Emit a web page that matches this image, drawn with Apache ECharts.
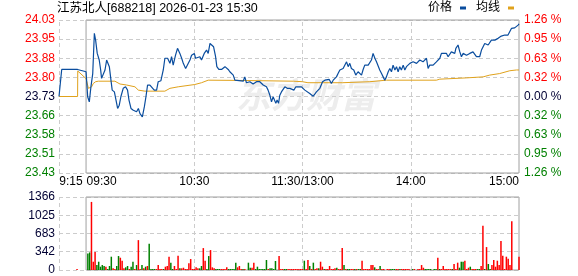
<!DOCTYPE html>
<html><head><meta charset="utf-8">
<script src="https://cdn.jsdelivr.net/npm/echarts@6/dist/echarts.min.js"></script>
<style>html,body{margin:0;padding:0;background:#fff}#c{width:578px;height:276px}</style>
</head><body><div id="c"></div>
<script>
// ---------- data ----------
const titleText = '江苏北人[688218] 2026-01-23 15:30';
const legendNames = ['价格', '均线'];
const prevClose = 23.73;
const priceMin = 23.43, priceMax = 24.03;
const priceTicks = ['23.43','23.51','23.58','23.66','23.73','23.80','23.88','23.95','24.03'];
const pctTicks = ['1.26 %','0.95 %','0.63 %','0.32 %','0.00 %','0.32 %','0.63 %','0.95 %','1.26 %'];
const volMax = 1366;
const volTicks = ['0','342','683','1025','1366'];
// minute index: 0 = 9:15, 15 = 9:30, 135 = 11:30/13:00, 255 = 15:00
const timeTickIdx = [0, 15, 75, 135, 195, 255];
const timeTickText = ['9:15', '09:30', '10:30', '11:30/13:00', '14:00', '15:00'];
const gridLineIdx = [0, 75, 135, 195];

const priceTime = [0,1.5,10.3,10.4,15.0,15.9,16.8,17.7,18.7,19.6,20.3,21.2,22.3,23.1,23.6,24.6,25.5,26.4,27.3,27.9,28.8,29.5,30.7,31.6,32.5,33.4,34.3,35.6,36.9,38.0,38.8,39.9,41.2,42.1,43.0,44.0,44.9,46.2,47.3,48.2,49.1,50.4,51.3,52.8,54.1,55.0,56.5,57.8,58.7,60.2,61.5,62.4,63.3,64.6,65.7,67.0,68.0,68.9,70.2,71.3,72.6,73.5,75.0,75.7,76.8,78.1,79.0,80.5,81.8,82.7,83.7,84.6,85.7,86.8,87.5,88.6,90.1,92.0,92.9,93.8,94.7,96.6,97.5,98.4,102.1,103.0,103.9,104.9,105.8,107.6,109.5,110.4,111.3,112.3,113.2,115.0,115.9,116.9,117.8,118.7,120.2,120.9,121.7,122.4,123.3,124.3,125.2,126.5,127.0,128.0,128.9,130.2,131.3,134.4,135.3,136.3,137.2,139.0,140.9,141.8,142.7,143.7,144.6,146.1,147.4,148.3,149.8,151.0,152.0,152.9,153.8,154.7,155.7,156.6,157.5,159.4,160.3,161.2,162.1,163.0,163.4,164.5,165.8,166.7,167.7,168.6,169.5,170.4,171.4,172.3,173.2,174.1,175.1,176.0,177.8,178.8,179.7,180.6,181.5,182.5,183.4,184.3,185.2,186.2,187.1,188.0,188.9,189.8,190.8,191.7,192.6,193.5,194.5,195.4,196.3,198.2,199.1,200.0,200.9,201.8,202.8,203.7,204.6,205.5,207.4,208.3,209.2,210.2,211.1,212.0,214.8,215.7,216.6,217.5,218.5,219.4,220.0,220.7,221.2,222.2,223.1,224.0,224.9,225.9,227.7,228.6,229.5,230.5,231.4,232.3,233.2,234.2,235.1,236.0,236.9,237.9,238.8,239.7,240.6,241.6,243.4,244.3,245.2,246.2,247.1,248.9,249.9,250.8,252.6,253.6,254.5,255.0];
const priceValue = [23.73,23.836,23.836,23.83,23.827,23.729,23.709,23.768,23.820,23.978,23.951,23.899,23.873,23.834,23.801,23.794,23.834,23.873,23.876,23.847,23.794,23.755,23.748,23.716,23.683,23.696,23.729,23.762,23.768,23.755,23.716,23.683,23.676,23.683,23.670,23.683,23.663,23.650,23.689,23.729,23.775,23.775,23.768,23.755,23.755,23.788,23.792,23.834,23.880,23.880,23.860,23.886,23.853,23.892,23.919,23.899,23.880,23.860,23.840,23.834,23.873,23.892,23.899,23.880,23.873,23.886,23.873,23.899,23.912,23.899,23.938,23.945,23.925,23.886,23.847,23.836,23.836,23.847,23.853,23.836,23.827,23.814,23.794,23.788,23.790,23.807,23.784,23.781,23.788,23.779,23.788,23.794,23.788,23.781,23.775,23.768,23.755,23.735,23.709,23.729,23.703,23.716,23.703,23.735,23.748,23.742,23.768,23.762,23.755,23.762,23.755,23.755,23.768,23.768,23.762,23.755,23.748,23.742,23.731,23.739,23.748,23.755,23.762,23.788,23.794,23.797,23.797,23.781,23.794,23.788,23.807,23.820,23.834,23.827,23.840,23.866,23.847,23.860,23.840,23.847,23.834,23.814,23.827,23.820,23.814,23.836,23.853,23.847,23.853,23.860,23.873,23.899,23.880,23.866,23.834,23.820,23.807,23.794,23.807,23.827,23.840,23.827,23.853,23.834,23.847,23.827,23.847,23.834,23.853,23.834,23.847,23.840,23.860,23.853,23.866,23.860,23.866,23.873,23.880,23.866,23.860,23.880,23.840,23.853,23.853,23.860,23.866,23.873,23.880,23.899,23.899,23.886,23.892,23.905,23.905,23.899,23.919,23.912,23.932,23.905,23.886,23.899,23.899,23.892,23.899,23.892,23.905,23.899,23.886,23.880,23.886,23.912,23.925,23.938,23.945,23.932,23.938,23.951,23.945,23.951,23.958,23.964,23.967,23.964,23.971,23.971,23.978,23.997,23.999,24.004,24.010,24.015];

const avgTime = [0,10.3,10.4,15.0,16.3,17.2,18.1,19.0,20.3,21.8,31.0,33.8,37.5,42.1,44.0,47.6,58.7,61.5,66.1,75.3,79.0,82.7,100,130,135,138,157,158,172.3,181.5,209.2,211.1,225.9,235.1,238.8,244.3,249.9,253.6,255];
const avgValue = [23.73,23.73,23.83,23.80,23.762,23.755,23.768,23.781,23.788,23.790,23.790,23.779,23.775,23.768,23.755,23.751,23.751,23.762,23.768,23.777,23.784,23.794,23.793,23.790,23.788,23.784,23.784,23.788,23.788,23.794,23.794,23.798,23.803,23.807,23.814,23.820,23.831,23.834,23.834];

const volTime = [10,16,17,18,19,20,21,22,23,24,25,26,27,28,29,30,31,32,33,34,35,36,37,38,39,40,41,42,43,44,45,46,47,48,49,50,51,52,53,54,55,56,57,58,59,60,61,62,63,64,65,66,67,68,69,70,71,72,73,74,75,76,77,78,79,80,81,82,83,84,85,86,87,88,89,90,91,92,93,94,95,96,97,98,99,100,101,102,103,105,106,107,108,109,110,111,112,113,114,115,116,117,118,119,120,122,123,124,125,126,127,128,129,130,131,132,133,134,135,136,137,138,139,140,141,142,143,144,145,146,147,148,149,150,151,152,153,154,155,156,157,158,159,160,161,162,163,164,165,166,167,168,169,170,171,172,173,174,175,176,177,178,179,180,182,183,184,185,186,187,188,189,190,191,192,193,194,196,197,199,200,201,202,203,204,205,206,208,209,210,211,212,213,214,215,216,217,218,219,220,221,222,223,224,225,226,227,228,229,230,231,232,233,234,235,236,237,238,239,240,241,242,243,244,245,246,247,248,249,250,251,255];
const volValue = [19,311,329,1274,155,335,93,155,62,93,75,62,19,75,249,31,19,75,261,230,174,31,50,75,19,62,155,19,93,559,19,93,31,62,75,491,19,19,19,19,93,19,19,19,62,75,249,137,19,75,19,267,31,31,43,19,19,124,205,19,19,50,31,31,75,410,174,19,261,373,50,31,19,19,19,19,19,19,50,19,19,19,19,137,50,75,19,19,19,137,43,43,137,19,62,19,19,19,19,187,19,31,31,19,168,261,19,19,19,19,19,19,19,19,19,19,19,19,19,174,19,187,75,19,137,19,31,31,155,62,19,19,19,75,19,19,31,43,19,19,410,93,19,19,19,19,19,19,19,19,19,174,19,19,19,19,93,93,50,19,19,75,19,19,19,19,19,19,19,19,19,19,19,19,19,19,19,19,19,19,19,93,43,19,19,19,19,19,19,230,19,19,75,19,19,19,19,19,112,19,137,43,155,155,174,19,43,62,19,19,19,19,19,75,826,19,429,112,19,93,187,62,174,93,541,267,19,249,211,93,913,249];
const volUp = [1,0,0,1,1,1,0,0,0,0,0,1,0,0,0,1,1,0,0,1,1,1,0,0,1,0,0,1,0,1,1,0,1,0,1,0,0,0,0,1,1,1,1,0,1,1,1,0,0,1,1,1,0,1,1,1,1,1,1,1,1,1,1,0,0,1,1,0,0,1,1,1,0,0,0,1,1,1,1,0,0,0,0,0,1,1,1,0,1,0,0,1,1,0,0,0,0,0,0,0,1,0,0,0,0,1,1,1,0,0,1,1,1,1,1,1,1,1,1,0,1,1,0,1,0,1,1,0,1,1,0,1,1,1,1,1,1,0,1,1,1,0,1,0,0,1,1,0,1,0,0,1,1,1,1,1,1,1,0,1,1,0,1,1,1,1,0,0,0,1,1,0,1,1,1,1,1,0,1,1,1,1,1,0,0,0,0,0,0,1,0,1,1,1,1,1,1,0,1,1,1,0,0,0,1,1,1,0,1,1,1,0,0,1,1,0,1,0,0,1,1,1,1,1,1,1,1,1,1,1,1,1];

// ---------- styles ----------
const RED = '#ff0000', GREEN = '#008000', DARK = '#000033';
const BLUE = '#0a4d9e', ORANGE = '#e0a21c';
const GRIDC = '#cccccc', BORDER = '#a0a0a0';
const FONT = '"Liberation Sans", "Noto Sans CJK SC", sans-serif';

const priceData = priceTime.map((t, i) => [t, priceValue[i]]);
const avgData = avgTime.map((t, i) => [t, avgValue[i]]);
const volData = volTime.map((t, i) => ({ value: [t, volValue[i]], itemStyle: { color: volUp[i] ? RED : GREEN } }));

const dashed = { color: GRIDC, type: [4, 3], width: 1 };
const vLines = gridLineIdx.map(x => ({ xAxis: x }));

const chart = echarts.init(document.getElementById('c'), null, { renderer: 'canvas' });
chart.setOption({
  animation: false,
  backgroundColor: '#fff',
  textStyle: { fontFamily: FONT },
  title: {
    text: titleText, left: 57, top: 2, padding: 0,
    textStyle: { fontSize: 12.5, fontWeight: 'normal', color: '#000', fontFamily: FONT }
  },
  legend: {
    data: legendNames, right: 64, top: 2, padding: 0, align: 'right',
    icon: 'rect', itemWidth: 6, itemHeight: 3, itemGap: 10,
    textStyle: { fontSize: 12, color: '#000', fontFamily: FONT, padding: [0, 3, 0, 0] }
  },
  graphic: [{
    type: 'text', left: 236, top: 77, z: 0, silent: true,
    style: { text: '东方财富', font: 'italic bold 35px "Noto Sans CJK SC"', fill: '#ededed' }
  }],
  grid: [
    { left: 59, right: 59, top: 20, height: 153 },
    { left: 59, right: 59, top: 197, height: 73 }
  ],
  xAxis: [
    {
      gridIndex: 0, type: 'value', min: 0, max: 255, interval: 15,
      axisLine: { show: false }, axisTick: { show: false }, splitLine: { show: false },
      axisLabel: {
        show: true, margin: 3, fontSize: 12, color: '#000', fontFamily: FONT,
        showMinLabel: true, showMaxLabel: true,
        formatter: v => {
          const i = timeTickIdx.indexOf(Math.round(v));
          if (i < 0) return '';
          const t = timeTickText[i];
          if (i === 0) return '{l|' + t + '}';
          if (i === 1) return '{m|' + t + '}';
          if (i === timeTickIdx.length - 1) return '{r|' + t + '}';
          return '{c|' + t + '}';
        },
        rich: {
          l: { fontSize: 12, color: '#000', fontFamily: FONT, padding: [0, 0, 0, 24] },
          m: { fontSize: 12, color: '#000', fontFamily: FONT, padding: [0, 0, 0, 31] },
          r: { fontSize: 12, color: '#000', fontFamily: FONT, padding: [0, 30, 0, 0] },
          c: { fontSize: 12, color: '#000', fontFamily: FONT }
        }
      }
    },
    {
      gridIndex: 1, type: 'value', min: 0, max: 255, interval: 15,
      axisLine: { show: false }, axisTick: { show: false }, splitLine: { show: false },
      axisLabel: { show: false }
    }
  ],
  yAxis: [
    { // price scale used by the lines
      gridIndex: 0, type: 'value', min: priceMin, max: priceMax, show: false
    },
    { // left tick labels (price)
      gridIndex: 0, type: 'value', min: 0, max: priceTicks.length - 1, interval: 1, position: 'left',
      axisLine: { show: false }, axisTick: { show: false },
      splitLine: { show: true, lineStyle: dashed },
      axisLabel: {
        margin: 4, fontSize: 12, fontFamily: FONT,
        formatter: v => priceTicks[Math.round(v)],
        color: v => (Math.round(v) > 4 ? RED : Math.round(v) < 4 ? GREEN : DARK)
      }
    },
    { // right tick labels (percent)
      gridIndex: 0, type: 'value', min: 0, max: pctTicks.length - 1, interval: 1, position: 'right',
      axisLine: { show: false }, axisTick: { show: false }, splitLine: { show: false },
      axisLabel: {
        margin: 5, fontSize: 12, fontFamily: FONT,
        formatter: v => pctTicks[Math.round(v)],
        color: v => (Math.round(v) > 4 ? RED : Math.round(v) < 4 ? GREEN : DARK)
      }
    },
    { // volume
      gridIndex: 1, type: 'value', min: 0, max: volMax, interval: volMax / 4,
      axisLine: { show: false }, axisTick: { show: false },
      splitLine: { show: true, lineStyle: dashed },
      axisLabel: {
        margin: 4, fontSize: 12, fontFamily: FONT, color: DARK,
        formatter: v => volTicks[Math.round(v / (volMax / 4))]
      }
    }
  ],
  series: [
    {
      name: '价格', type: 'line', xAxisIndex: 0, yAxisIndex: 0, data: priceData,
      showSymbol: false, symbol: 'none', z: 5,
      lineStyle: { color: BLUE, width: 1.2 }, itemStyle: { color: BLUE },
      markLine: {
        silent: true, symbol: 'none', label: { show: false },
        lineStyle: dashed, data: vLines, z: 1
      },
      markArea: {
        silent: true, label: { show: false },
        itemStyle: { color: 'rgba(0,0,0,0)', borderColor: BORDER, borderWidth: 1 },
        data: [[{ xAxis: timeTickIdx[1], yAxis: priceMin }, { xAxis: timeTickIdx[timeTickIdx.length - 1], yAxis: priceMax }]]
      }
    },
    {
      name: '均线', type: 'line', xAxisIndex: 0, yAxisIndex: 0, data: avgData,
      showSymbol: false, symbol: 'none', z: 4,
      lineStyle: { color: ORANGE, width: 1 }, itemStyle: { color: ORANGE }
    },
    {
      name: '成交量', type: 'bar', xAxisIndex: 1, yAxisIndex: 3, data: volData,
      barWidth: 1.5, z: 4,
      markLine: {
        silent: true, symbol: 'none', label: { show: false },
        lineStyle: dashed, data: vLines, z: 1
      },
      markArea: {
        silent: true, label: { show: false },
        itemStyle: { color: 'rgba(0,0,0,0)', borderColor: BORDER, borderWidth: 1 },
        data: [[{ xAxis: timeTickIdx[1], yAxis: 0 }, { xAxis: timeTickIdx[timeTickIdx.length - 1], yAxis: volMax }]]
      }
    }
  ]
});
</script>
</body></html>
